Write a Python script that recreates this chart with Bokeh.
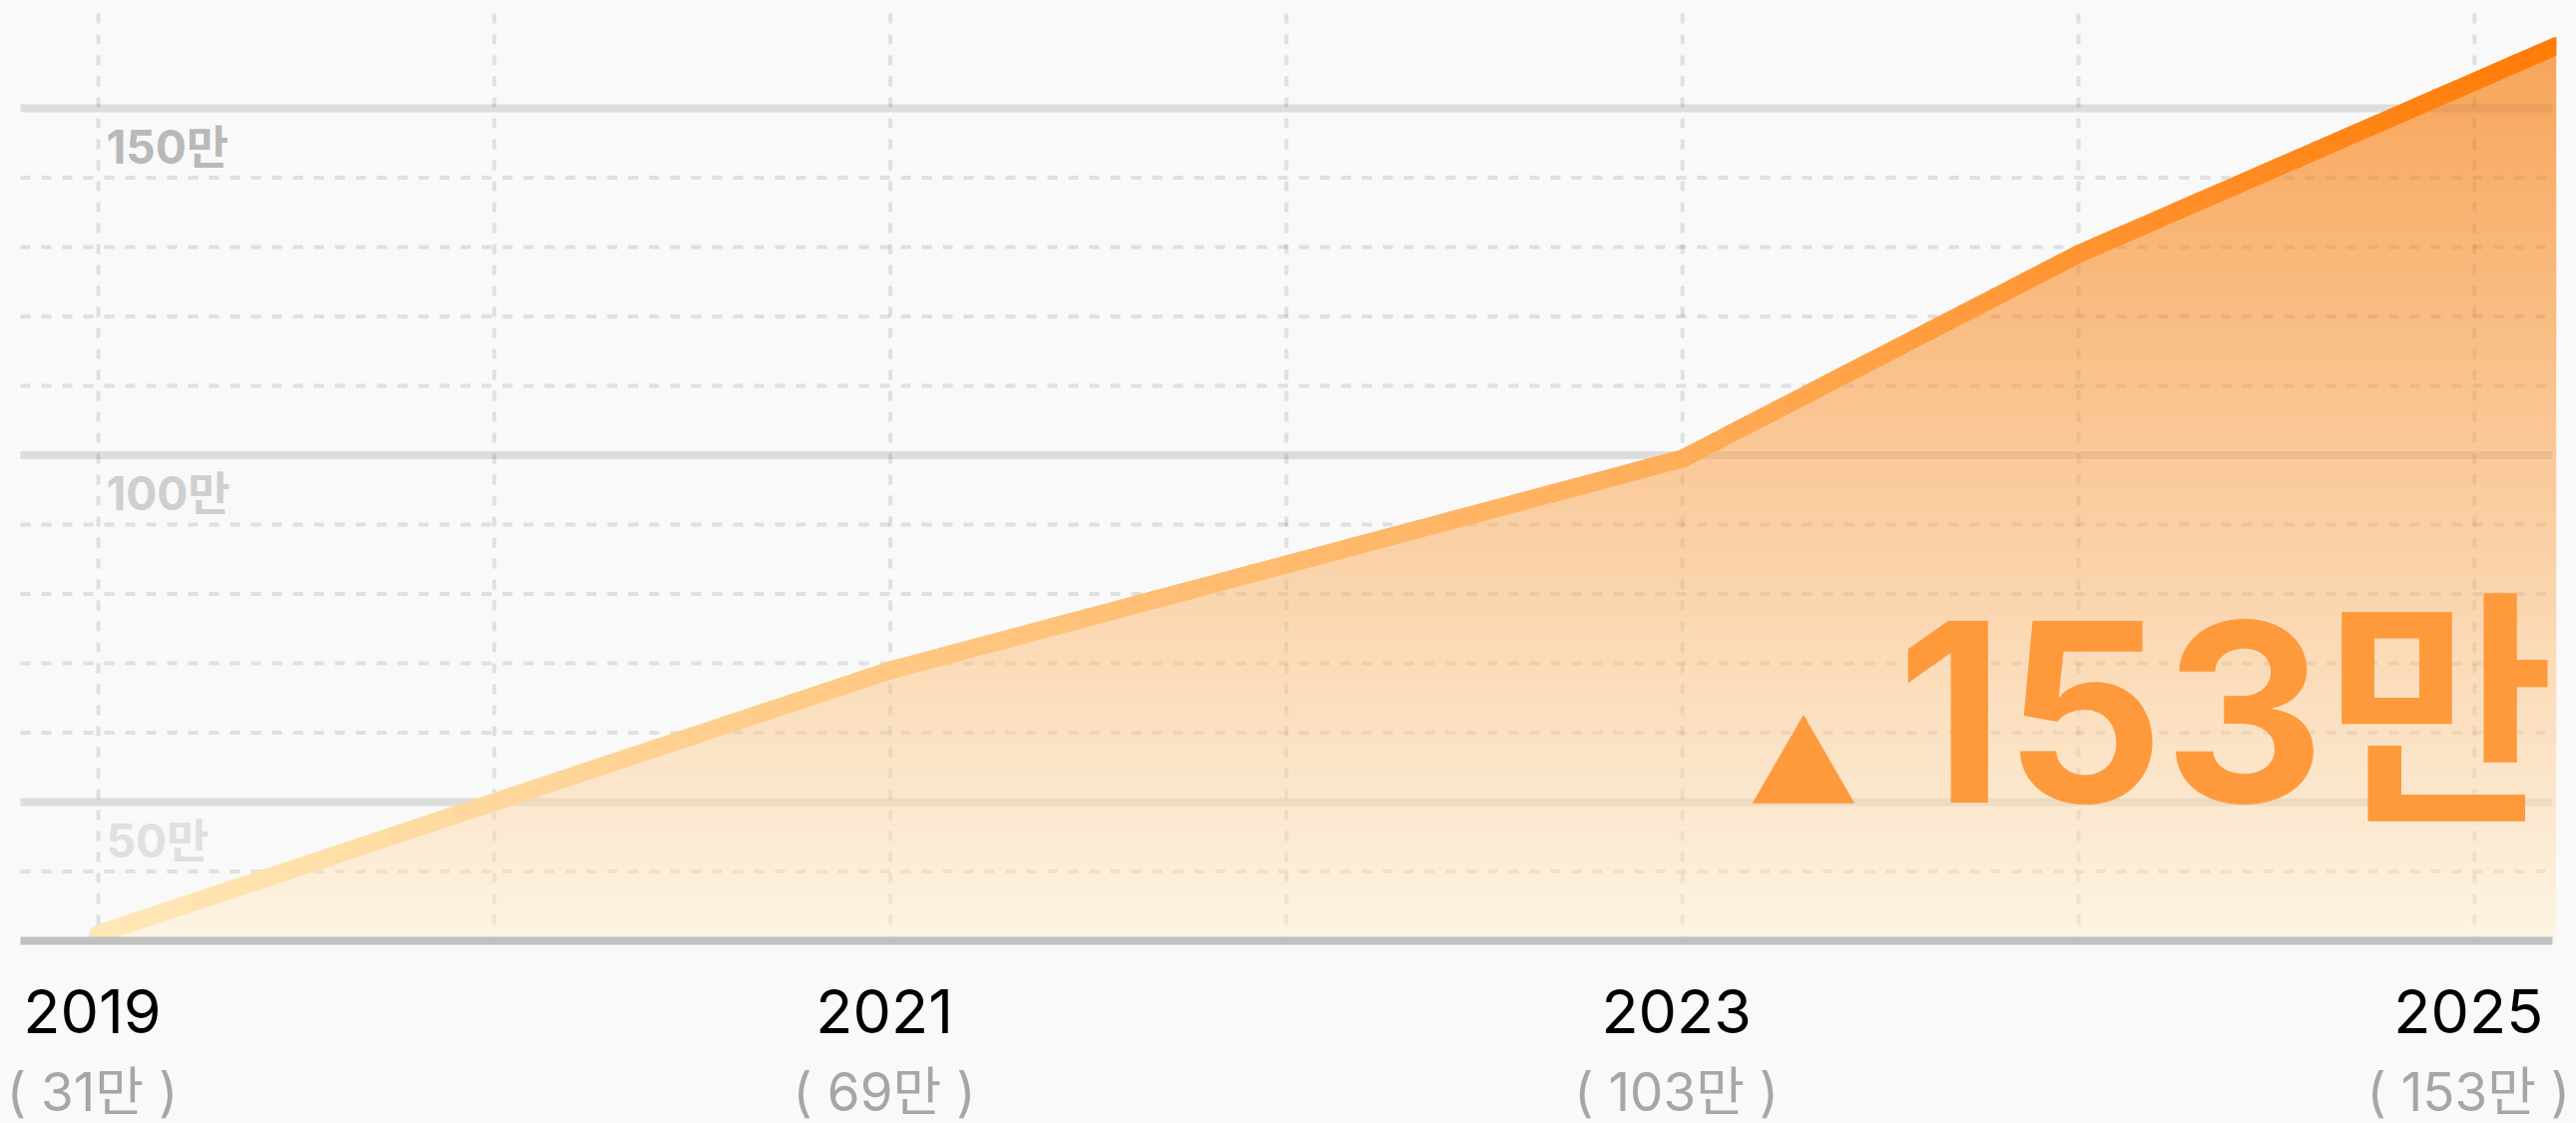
import numpy as np
from bokeh.plotting import figure
from bokeh.models import Range1d, ColumnDataSource, LabelSet
from bokeh.core.properties import value
from bokeh.embed import file_html
from bokeh.resources import INLINE

# ---------------- data ----------------
label_years = [2019, 2021, 2023, 2025]
year_texts = ["2019", "2021", "2023", "2025"]
label_values = [31, 69, 103, 153]
value_texts = ["( %d만 )" % v for v in label_values]

line_x = [2019, 2021, 2023, 2024, 2025.207]   # last point sits at the right edge
line_v = [31, 69, 99.5, 129, 159]             # 만 (10,000)

grid_years = [2019, 2020, 2021, 2022, 2023, 2024, 2025]
major_ticks = [50, 100, 150]
minor_ticks = [40, 60, 70, 80, 90, 110, 120, 130, 140]
tick_texts = ["50만", "100만", "150만"]
tick_colors = ["#e0e0e0", "#cfcfcf", "#b9b9b9"]
base_value = 30
headline = "153만"

# ---------------- scales (pixel geometry of the canvas) ----------------
W, H = 2581, 1125
pxy = 396.8          # px per year
ppu = 6.95           # px per 만
X0 = grid_years[0] - 98 / pxy
X1 = X0 + W / pxy
Y1 = major_ticks[-1] + 108 / ppu
Y0 = Y1 - H / ppu
XL = X0 + 20 / pxy       # left end of the horizontal rules
XR = X0 + 2557 / pxy     # right end of the horizontal rules
YT = Y1 - 13 / ppu       # top of the vertical rules
BG = "#f9f9f9"
FONT = "Inter, 'Noto Sans CJK KR'"
GRID = "black"

p = figure(width=W, height=H, x_range=Range1d(X0, X1), y_range=Range1d(Y0, Y1),
           output_backend="svg", toolbar_location=None,
           x_axis_location=None, y_axis_location=None,
           min_border_left=0, min_border_right=0, min_border_top=0, min_border_bottom=0,
           background_fill_color=BG, border_fill_color=BG, outline_line_color=None)
p.xgrid.visible = False
p.ygrid.visible = False

n_maj, n_min = len(major_ticks), len(minor_ticks)

def draw_rules(a_minor, a_major):
    p.segment(x0=[XL] * n_min, x1=[XR] * n_min, y0=minor_ticks, y1=minor_ticks,
              line_color=GRID, line_alpha=a_minor, line_width=4, line_dash="10 11")
    p.segment(x0=grid_years, x1=grid_years, y0=[YT] * len(grid_years), y1=[base_value] * len(grid_years),
              line_color=GRID, line_alpha=a_minor, line_width=4, line_dash="10 11")
    p.segment(x0=[XL] * n_maj, x1=[XR] * n_maj, y0=major_ticks, y1=major_ticks,
              line_color=GRID, line_alpha=a_major, line_width=8)

# rules: one pass under the area, a faint pass over it
OVER = 0.055
draw_rules(1 - 0.90 / (1 - OVER), 1 - 0.89 / (1 - OVER))

# ---------------- gradient area (opaque horizontal bands under the line) ----------------
def lerp(c0, c1, t):
    t = min(max(t, 0.0), 1.0)
    return tuple(a + (b - a) * t for a, b in zip(c0, c1))

def hexc(c):
    return "#%02x%02x%02x" % tuple(int(round(min(max(v, 0), 255))) for v in c)

fill_lo, fill_hi = (252, 244, 227), (248, 164, 88)
band_h = 6 / ppu
n_bands = int(np.ceil((max(line_v) - base_value) / band_h)) + 1
lv = np.array(line_v, dtype=float)
lx = np.array(line_x, dtype=float)
band_xs, band_ys, band_cols = [], [], []
for k in range(n_bands):
    ya = base_value + k * band_h
    yb = ya + band_h * 1.5
    ys = [ya] + [v for v in line_v if ya < v < yb] + [yb]
    xs = list(np.interp(ys, lv, lx))
    band_xs.append(xs + [line_x[-1], line_x[-1]])
    band_ys.append(ys + [yb, ya])
    band_cols.append(hexc(lerp(fill_lo, fill_hi, (ya + band_h / 2 - base_value) / (160 - base_value))))
p.patches(band_xs, band_ys, fill_color=band_cols, line_color=None)

draw_rules(OVER, OVER)

# ---------------- gradient line ----------------
line_lo, line_hi = (255, 232, 184), (255, 123, 7)
seg_xs, seg_ys, seg_cols = [], [], []
for i in range(len(line_x) - 1):
    n = 24
    tx = np.linspace(line_x[i], line_x[i + 1], n + 1)
    ty = np.linspace(line_v[i], line_v[i + 1], n + 1)
    for k in range(n):
        seg_xs.append([tx[k], tx[k + 1]])
        seg_ys.append([ty[k], ty[k + 1]])
        seg_cols.append(hexc(lerp(line_lo, line_hi, ((ty[k] + ty[k + 1]) / 2 - 31) / (159 - 31))))
p.multi_line(seg_xs, seg_ys, line_color=seg_cols, line_width=18, line_cap="round")

# cover the bit of line past the right end, then the baseline
p.quad(left=[line_x[-1]], right=[X1 + 1], bottom=[base_value - 2], top=[Y1 + 5],
       fill_color=BG, line_color=None)
p.segment(x0=[XL], x1=[XR], y0=[base_value], y1=[base_value], line_color="#c0c0c0", line_width=8)

# ---------------- texts in the chart ----------------
tick_src = ColumnDataSource(dict(x=[grid_years[0]] * n_maj,
                                 y=[t - 55 / ppu for t in major_ticks],
                                 t=tick_texts, c=tick_colors))
p.add_layout(LabelSet(x="x", y="y", text="t", source=tick_src, x_offset=8,
                      text_color="c", text_font=value(FONT), text_font_size="46px",
                      text_font_style="bold", text_align="left", text_baseline="alphabetic"))

head_src = ColumnDataSource(dict(x=[line_x[-1]], y=[major_ticks[0]], t=[headline]))
p.add_layout(LabelSet(x="x", y="y", text="t", source=head_src, x_offset=-2,
                      text_color="#fe9a3c", text_font=value(FONT), text_font_size="250px",
                      text_font_style="bold", text_align="right", text_baseline="alphabetic"))
tri_src = ColumnDataSource(dict(x=[line_x[-1]], y=[major_ticks[0]], t=["▲"]))
p.add_layout(LabelSet(x="x", y="y", text="t", source=tri_src, x_offset=-700, y_offset=-2,
                      text_color="#fe9a3c", text_font=value("Noto Sans CJK KR"), text_font_size="109px",
                      text_align="right", text_baseline="alphabetic"))

# ---------------- labels under the chart ----------------
yr_src = ColumnDataSource(dict(x=label_years, y=[base_value - 92 / ppu] * len(label_years), t=year_texts))
p.add_layout(LabelSet(x="x", y="y", text="t", source=yr_src, text_color="#000000", x_offset=-6,
                      text_font=value(FONT), text_font_size="61px",
                      text_align="center", text_baseline="alphabetic"))
val_src = ColumnDataSource(dict(x=label_years, y=[base_value - 170 / ppu] * len(label_years), t=value_texts))
p.add_layout(LabelSet(x="x", y="y", text="t", source=val_src, text_color="#a6a6a6", x_offset=-6,
                      text_font=value(FONT), text_font_size="53px",
                      text_align="center", text_baseline="alphabetic"))

open("out.html", "w").write(file_html(p, INLINE))
